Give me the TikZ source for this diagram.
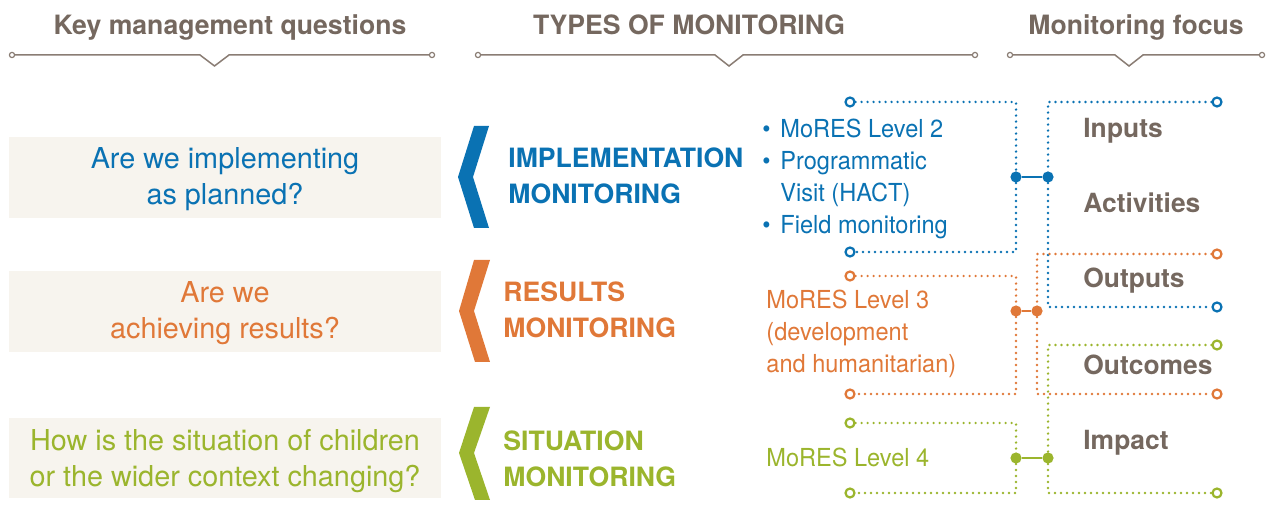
\documentclass[tikz,border=0pt]{standalone}
\usepackage{fontspec}
\setmainfont{TeX Gyre Heros}
\newfontfamily\narrowfont[FakeStretch=0.95]{TeX Gyre Heros}
\definecolor{unblue}{HTML}{0A72B3}
\definecolor{unorange}{HTML}{E07838}
\definecolor{ungreen}{HTML}{9BB52D}
\definecolor{taupe}{HTML}{75685F}
\definecolor{rule}{HTML}{8A7D74}
\definecolor{paper}{HTML}{F7F4EE}

\begin{document}
\begin{tikzpicture}[x=0.5pt,y=-0.5pt]
			\tikzset{ring/.style = {circle,draw=#1,line width=1.1pt,fill=white,inner sep=0pt,minimum size=4.5pt}}
			\tikzset{joint/.style = {circle,fill=#1,inner sep=0pt,minimum size=5.6pt}}
			\tikzset{dotline/.style = {line width=1.35pt,line cap=round,dash pattern=on 0pt off 3pt}}
			\tikzset{hend/.style = {circle,draw=rule,line width=0.6pt,fill=white,inner sep=0pt,minimum size=2.6pt}}
			\tikzset{head/.style = {font=\bfseries\fontsize{13.3}{16}\selectfont,text=taupe,anchor=base,inner sep=0pt}}
			\tikzset{question/.style = {font=\fontsize{14.4}{18}\selectfont,align=center,anchor=base,inner sep=0pt}}
			\tikzset{mtype/.style = {font=\bfseries\fontsize{13.3}{18}\selectfont,align=left,anchor=base west,inner sep=0pt}}
			\tikzset{detail/.style = {font=\narrowfont\fontsize{12.4}{16}\selectfont,align=left,anchor=base west,inner sep=0pt}}
			\tikzset{focus/.style = {font=\bfseries\fontsize{13.2}{16}\selectfont,text=taupe,anchor=base west,inner sep=0pt}}
			\useasboundingbox (0,0) rectangle (1270,506);
			% headings
			\node[head] (hq) at (230,35) {Key management questions};
			\node[head] (ht) at (689,35) {TYPES OF MONITORING};
			\node[head] (hf) at (1136,35) {Monitoring focus};
			\node[hend] (hqa) at (12,55) {};
			\node[hend] (hqb) at (432,55) {};
			\node[hend] (hta) at (478,55) {};
			\node[hend] (htb) at (975,55) {};
			\node[hend] (hfa) at (1010,55) {};
			\node[hend] (hfb) at (1262,55) {};
			\draw[rule,line width=0.75pt] (hqa) -- (200,55) -- (214.5,66) -- (229,55) -- (hqb);
			\draw[rule,line width=0.75pt] (hta) -- (715,55) -- (729,66) -- (743,55) -- (htb);
			\draw[rule,line width=0.75pt] (hfa) -- (1115,55) -- (1129,66) -- (1143,55) -- (hfb);
			% questions (base = last line)
			\fill[paper] (9,137) rectangle (441,218);
			\fill[paper] (9,271) rectangle (441,352);
			\fill[paper] (9,418) rectangle (441,498);
			\node[question,text=unblue] (q1) at (225,205) {Are we implementing\\as planned?};
			\node[question,text=unorange] (q2) at (225,339) {Are we\\achieving results?};
			\node[question,text=ungreen] (q3) at (225,487) {How is the situation of children\\or the wider context changing?};
			% chevrons
			\fill[unblue] (474,126) -- (489,126) -- (473,177) -- (489,228) -- (474,228) -- (458,177) -- cycle;
			\fill[unorange] (474,260) -- (490,260) -- (474,311) -- (490,362) -- (475,362) -- (459,311) -- cycle;
			\fill[ungreen] (474,407) -- (490,407) -- (474,453) -- (490,500) -- (475,500) -- (459,453) -- cycle;
			% types
			\node[mtype,text=unblue] (t1) at (508,204) {IMPLEMENTATION\\MONITORING};
			\node[mtype,text=unorange] (t2) at (503,338) {RESULTS\\MONITORING};
			\node[mtype,text=ungreen] (t3) at (503,487) {SITUATION\\MONITORING};
			% tools
			\node[detail,text=unblue] (d1) at (762,234) {\makebox[9pt][l]{\textbullet}MoRES Level 2\\\makebox[9pt][l]{\textbullet}Programmatic\\\hspace*{9pt}Visit (HACT)\\\makebox[9pt][l]{\textbullet}Field monitoring};
			\node[detail,text=unorange] (d2) at (766,373) {MoRES Level 3\\(development\\and humanitarian)};
			\node[detail,text=ungreen] (d3) at (766,467) {MoRES Level 4};
			% focus
			\node[focus] (f1) at (1083,138) {Inputs};
			\node[focus] (f2) at (1083,213) {Activities};
			\node[focus] (f3) at (1083,288) {Outputs};
			\node[focus] (f4) at (1083,375) {Outcomes};
			\node[focus] (f5) at (1083,450) {Impact};
			% blue links
			\node[ring=unblue] (bl1) at (850,102) {};
			\node[ring=unblue] (bl2) at (850,252) {};
			\node[ring=unblue] (br1) at (1217,102) {};
			\node[ring=unblue] (br2) at (1217,307) {};
			\node[joint=unblue] (bj1) at (1016,177) {};
			\node[joint=unblue] (bj2) at (1048,177) {};
			\draw[dotline,unblue] (bl1) -| (bj1) |- (bl2);
			\draw[dotline,unblue] (br1) -| (bj2) |- (br2);
			\draw[unblue,line width=1.2pt] (bj1) -- (bj2);
			% orange links
			\node[ring=unorange] (ol1) at (850,276) {};
			\node[ring=unorange] (ol2) at (850,394) {};
			\node[ring=unorange] (or1) at (1217,254) {};
			\node[ring=unorange] (or2) at (1217,394) {};
			\node[joint=unorange] (oj1) at (1016,311) {};
			\node[joint=unorange] (oj2) at (1037,311) {};
			\draw[dotline,unorange] (ol1) -| (oj1) |- (ol2);
			\draw[dotline,unorange] (or1) -| (oj2) |- (or2);
			\draw[unorange,line width=1.2pt] (oj1) -- (oj2);
			% green links
			\node[ring=ungreen] (gl1) at (850,423) {};
			\node[ring=ungreen] (gl2) at (850,493) {};
			\node[ring=ungreen] (gr1) at (1217,345) {};
			\node[ring=ungreen] (gr2) at (1217,493) {};
			\node[joint=ungreen] (gj1) at (1016,458) {};
			\node[joint=ungreen] (gj2) at (1048,458) {};
			\draw[dotline,ungreen] (gl1) -| (gj1) |- (gl2);
			\draw[dotline,ungreen] (gr1) -| (gj2) |- (gr2);
			\draw[ungreen,line width=1.2pt] (gj1) -- (gj2);
		\end{tikzpicture}
\end{document}
